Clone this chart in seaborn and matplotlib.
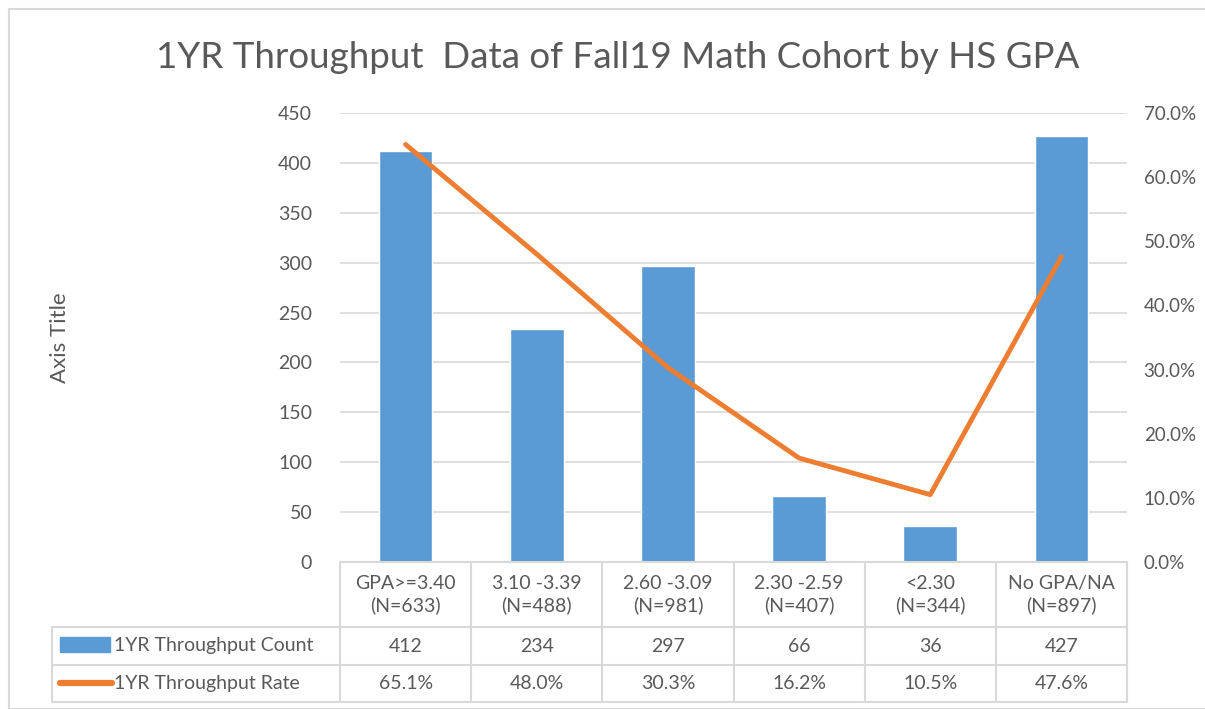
import numpy as np
import matplotlib.pyplot as plt
import matplotlib.transforms as mtransforms
from matplotlib.patches import Rectangle
import pandas as pd
import seaborn as sns

# chart data
groups = ["GPA>=3.40\n(N=633)", "3.10 -3.39\n(N=488)", "2.60 -3.09\n(N=981)",
          "2.30 -2.59\n(N=407)", "<2.30\n(N=344)", "No GPA/NA\n(N=897)"]
counts = [412, 234, 297, 66, 36, 427]
rates = [65.1, 48.0, 30.3, 16.2, 10.5, 47.6]
count_label = "1YR Throughput Count"
rate_label = "1YR Throughput Rate"
title = "1YR Throughput  Data of Fall19 Math Cohort by HS GPA"

blue = "#5B9BD5"
orange = "#ED7D31"
grid_c = "#D9D9D9"
txt_c = "#595959"
fs = 14

sns.set_theme(style="white")
plt.rcParams['font.family'] = ['Lato', 'DejaVu Sans']

df = pd.DataFrame({"group": groups, "count": counts, "rate": np.array(rates) / 100,
                   "pos": np.arange(len(groups))})

fig = plt.figure(figsize=(12.05, 7.09), dpi=100)
W, H = 1205, 709
ax = fig.add_axes([340 / W, 1 - 562 / H, (1127 - 340) / W, (562 - 113) / H])

sns.barplot(data=df, x="pos", y="count", color=blue, width=0.41, saturation=1,
            ax=ax, zorder=2)
ax.set_xlim(-0.5, len(groups) - 0.5)
ax.set_ylim(0, 450)
ax.set_yticks(np.arange(0, 451, 50))
ax.yaxis.grid(True, color=grid_c, lw=1.2, zorder=0)
ax.set_axisbelow(True)
ax.set_xticks([])
ax.set_xlabel("")
ax.set_ylabel("")
for s in ax.spines.values():
    s.set_visible(False)
ax.tick_params(axis="y", length=0, labelsize=fs, labelcolor=txt_c, pad=20)

ax2 = ax.twinx()
sns.lineplot(data=df, x="pos", y="rate", color=orange, lw=3.5, ax=ax2,
             solid_capstyle="round", zorder=3)
ax2.set_ylim(0, 0.7)
ax2.set_yticks(np.arange(0, 0.71, 0.1))
ax2.set_yticklabels([f"{v:.1%}" for v in np.arange(0, 0.71, 0.1)])
ax2.set_ylabel("")
ax2.set_xlabel("")
for s in ax2.spines.values():
    s.set_visible(False)
ax2.tick_params(axis="y", length=0, labelsize=13.5, labelcolor=txt_c, pad=12)
ax2.set_xlim(-0.5, len(groups) - 0.5)

fig.text(60 / W, 1 - 338 / H, "Axis Title", rotation=90, ha="center", va="center",
         fontsize=16, color=txt_c)
fig.text(0.5 * (157 + 1078) / W, 1 - 58 / H, title, ha="center", va="center",
         fontsize=26.5, color=txt_c)

# data table under the plot, columns follow the category axis
tr = mtransforms.blended_transform_factory(ax.transData, ax.transAxes)
n = len(groups)
edges = np.arange(n + 1) - 0.5
ax_h = 562 - 113
y_hdr_bot = (562 - 627) / ax_h
y_r1_bot = (562 - 665) / ax_h
y_r2_bot = (562 - 702) / ax_h
x_left = (52 - 340) / (1127 - 340) * n - 0.5
line_kw = dict(color=grid_c, lw=1.5, transform=tr, clip_on=False)
for e in edges:
    ax.plot([e, e], [0, y_r2_bot], **line_kw)
ax.plot([x_left, x_left], [y_hdr_bot, y_r2_bot], **line_kw)
ax.plot([edges[0], edges[-1]], [0, 0], **line_kw)
for yy in (y_hdr_bot, y_r1_bot, y_r2_bot):
    ax.plot([x_left, edges[-1]], [yy, yy], **line_kw)

for i, g in enumerate(groups):
    ax.text(i, y_hdr_bot / 2, g, transform=tr, ha="center", va="center",
            fontsize=fs, color=txt_c, linespacing=1.3)
    ax.text(i, (y_hdr_bot + y_r1_bot) / 2, str(counts[i]), transform=tr,
            ha="center", va="center", fontsize=fs, color=txt_c)
    ax.text(i, (y_r1_bot + y_r2_bot) / 2, f"{rates[i]:.1f}%", transform=tr,
            ha="center", va="center", fontsize=fs, color=txt_c)

# legend keys inside the table
fig.patches.append(Rectangle((60 / W, 1 - 652 / H), 50 / W, 15 / H,
                             transform=fig.transFigure, color=blue))
fig.lines.append(plt.Line2D([60 / W, 112 / W], [1 - 683 / H, 1 - 683 / H],
                            transform=fig.transFigure, color=orange, lw=4.5,
                            solid_capstyle="round"))
fig.text(114 / W, 1 - 645 / H, count_label, ha="left", va="center",
         fontsize=fs, color=txt_c)
fig.text(114 / W, 1 - 683 / H, rate_label, ha="left", va="center",
         fontsize=fs, color=txt_c)

# chart border
fig.patches.append(Rectangle((9 / W, 0), (W + 20) / W, 1 - 9 / H,
                             transform=fig.transFigure, fill=False,
                             edgecolor=grid_c, lw=1.5))

fig.savefig("out.png", dpi=100)
